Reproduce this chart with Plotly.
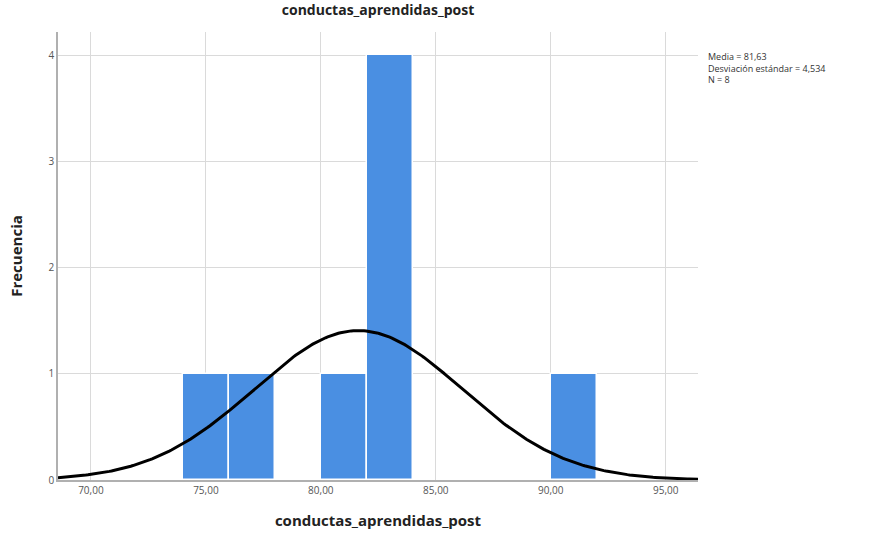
import numpy as np
import plotly.graph_objects as go

bin_starts = [74, 76, 80, 82, 90]
bin_width = 2
counts = [1, 1, 1, 4, 1]
mean = 81.63
sd = 4.534
n = 8
x_ticks = [70, 75, 80, 85, 90, 95]
x_tick_labels = ["70,00", "75,00", "80,00", "85,00", "90,00", "95,00"]
y_ticks = [0, 1, 2, 3, 4]

x_range = [68.57, 96.4]
bar_centers = [s + bin_width / 2 for s in bin_starts]

xs = np.linspace(x_range[0], x_range[1], 300)
ys = n * bin_width / (sd * np.sqrt(2 * np.pi)) * np.exp(-0.5 * ((xs - mean) / sd) ** 2)

fig = go.Figure()
fig.add_trace(go.Bar(
    x=bar_centers, y=counts, width=[bin_width] * len(counts),
    marker=dict(color="#4A8FE2", line=dict(color="white", width=1.5)),
    showlegend=False, hoverinfo="skip"))
fig.add_trace(go.Scatter(
    x=xs, y=ys, mode="lines", line=dict(color="black", width=3),
    showlegend=False, hoverinfo="skip"))

fig.update_layout(
    width=880, height=535,
    margin=dict(l=58, r=182, t=32, b=55),
    paper_bgcolor="white", plot_bgcolor="white",
    bargap=0,
    font=dict(family="Open Sans, DejaVu Sans, sans-serif", color="#333"),
    title=dict(text="<b>conductas_aprendidas_post</b>", x=0.5, xref="paper",
               y=1, yref="container", yanchor="top", pad=dict(t=5),
               font=dict(size=14, color="#222")),
    xaxis=dict(range=x_range, tickvals=x_ticks, ticktext=x_tick_labels,
               showgrid=True, gridcolor="#dadada", gridwidth=1,
               showline=True, linecolor="#b0b0b0", linewidth=1.5,
               ticks="", zeroline=False, automargin=False,
               tickfont=dict(size=10, color="#555"),
               title=dict(text="<b>conductas_aprendidas_post</b>",
                          font=dict(size=15, color="#222"), standoff=20)),
    yaxis=dict(range=[0, 4.22], tickvals=y_ticks,
               showgrid=True, gridcolor="#dadada", gridwidth=1,
               showline=True, linecolor="#b0b0b0", linewidth=1.5,
               ticks="", zeroline=False, automargin=False,
               tickfont=dict(size=10, color="#555"),
               title=dict(text="<b>Frecuencia</b>",
                          font=dict(size=15, color="#222"), standoff=22)),
)

fig.add_annotation(
    xref="paper", yref="paper", x=1.013, y=0.965, xanchor="left", yanchor="top",
    align="left", showarrow=False,
    text=f"Media = {mean:.2f}".replace(".", ",") + "<br>" +
         f"Desviación estándar = {sd:.3f}".replace(".", ",") + "<br>" +
         f"N = {n}",
    font=dict(size=9, color="#333"))

fig.write_html("out.html", config={"displayModeBar": False},
               post_script="document.body.style.margin='0';document.body.style.overflow='hidden';")
